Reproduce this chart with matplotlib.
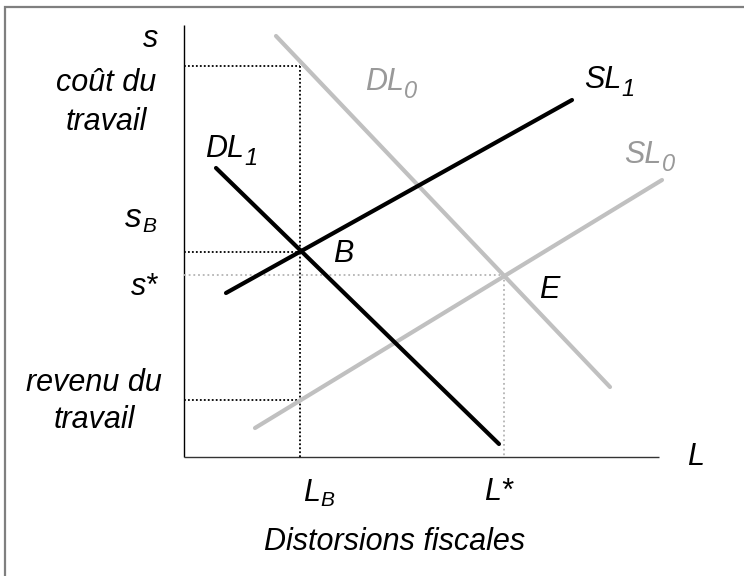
import matplotlib
matplotlib.use("Agg")
import matplotlib.pyplot as plt
from matplotlib.patches import Rectangle

plt.rcParams['font.family'] = ['Liberation Sans', 'DejaVu Sans']

# Curve endpoints (L, s) in diagram units
DL0_L = [92, 426]
DL0_s = [421, 70]
SL1_L = [42, 388]
SL1_s = [164, 357]
DL1_L = [32, 315]
DL1_s = [289, 13]
SL0_L = [71, 478]
SL0_s = [29, 277]

# Key points
L_B, s_B = 116, 205
L_star, s_star = 320, 182
s_cost = 391
s_rev = 57
L_max, s_max = 475, 432

fig = plt.figure(figsize=(7.44, 5.76), dpi=100)
ax = fig.add_axes([0, 0, 1, 1])
ax.set_xlim(-184, 560)
ax.set_ylim(-119, 457)
ax.axis('off')

# outer frame (only left and top visible)
ax.add_patch(Rectangle((-179, -200), 1000, 650, fill=False, edgecolor='#7f7f7f', lw=1.6))

# axes
ax.plot([0, 0], [0, s_max], color='black', lw=1.0, solid_capstyle='butt')
ax.plot([0, L_max], [0, 0], color='#333333', lw=1.0, solid_capstyle='butt')

# dotted guides
dk = dict(color='black', lw=1.3, linestyle=(0, (1, 1.2)))
gy = dict(color='#b4b4b4', lw=1.3, linestyle=(0, (1, 1.6)))
ax.plot([0, L_B], [s_cost, s_cost], **dk)
ax.plot([L_B, L_B], [s_cost, -2], **dk)
ax.plot([0, L_B], [s_B, s_B], **dk)
ax.plot([0, L_B], [s_rev, s_rev], **dk)
ax.plot([0, L_star], [s_star, s_star], **gy)
ax.plot([L_star, L_star], [s_star, 0], **gy)

# curves
ax.plot(DL0_L, DL0_s, color='#c0c0c0', lw=3.0, solid_capstyle='round')
ax.plot(SL0_L, SL0_s, color='#c0c0c0', lw=3.0, solid_capstyle='round')
ax.plot(SL1_L, SL1_s, color='black', lw=3.0, solid_capstyle='round')
ax.plot(DL1_L, DL1_s, color='black', lw=3.0, solid_capstyle='round')

fs = 22
it = dict(fontsize=fs, style='italic', va='baseline')


def sub_label(x, y, main, sub, size=22, subsize=17, dy=-0.7, color='black', ha='left'):
    t = ax.text(x, y, main, fontsize=size, style='italic', va='baseline', ha=ha, color=color)
    ax.annotate(sub, xy=(1, 0), xycoords=t, xytext=(0.3, dy), textcoords='offset points',
                fontsize=subsize, style='italic', va='baseline', ha='left', color=color)
    return t


ax.text(-26, 410, 's', ha='right', **it)
ax.text(-78, 366, 'coût du', ha='center', **it)
ax.text(-78, 327, 'travail', ha='center', **it)
sub_label(-59, 230, 's', 'B', size=24, subsize=15, dy=1.2)
ax.text(-26, 162, 's*', ha='right', **it)
ax.text(-90, 66, 'revenu du', ha='center', **it)
ax.text(-90, 29, 'travail', ha='center', **it)

sub_label(21, 300, 'DL', '1')
ax.text(149, 195, 'B', ha='left', **it)
sub_label(181, 367, 'DL', '0', color='#999999')
sub_label(400, 369, 'SL', '1')
sub_label(440, 294, 'SL', '0', color='#999999')
ax.text(355, 159, 'E', ha='left', **it)
ax.text(503, -8, 'L', ha='left', **it)
ax.text(300, -43, 'L*', ha='left', **it)
sub_label(119, -44, 'L', 'B', size=22, subsize=15, dy=1.2)
ax.text(211, -93, 'Distorsions fiscales', ha='center', **it)

fig.savefig('out.png', dpi=100)
